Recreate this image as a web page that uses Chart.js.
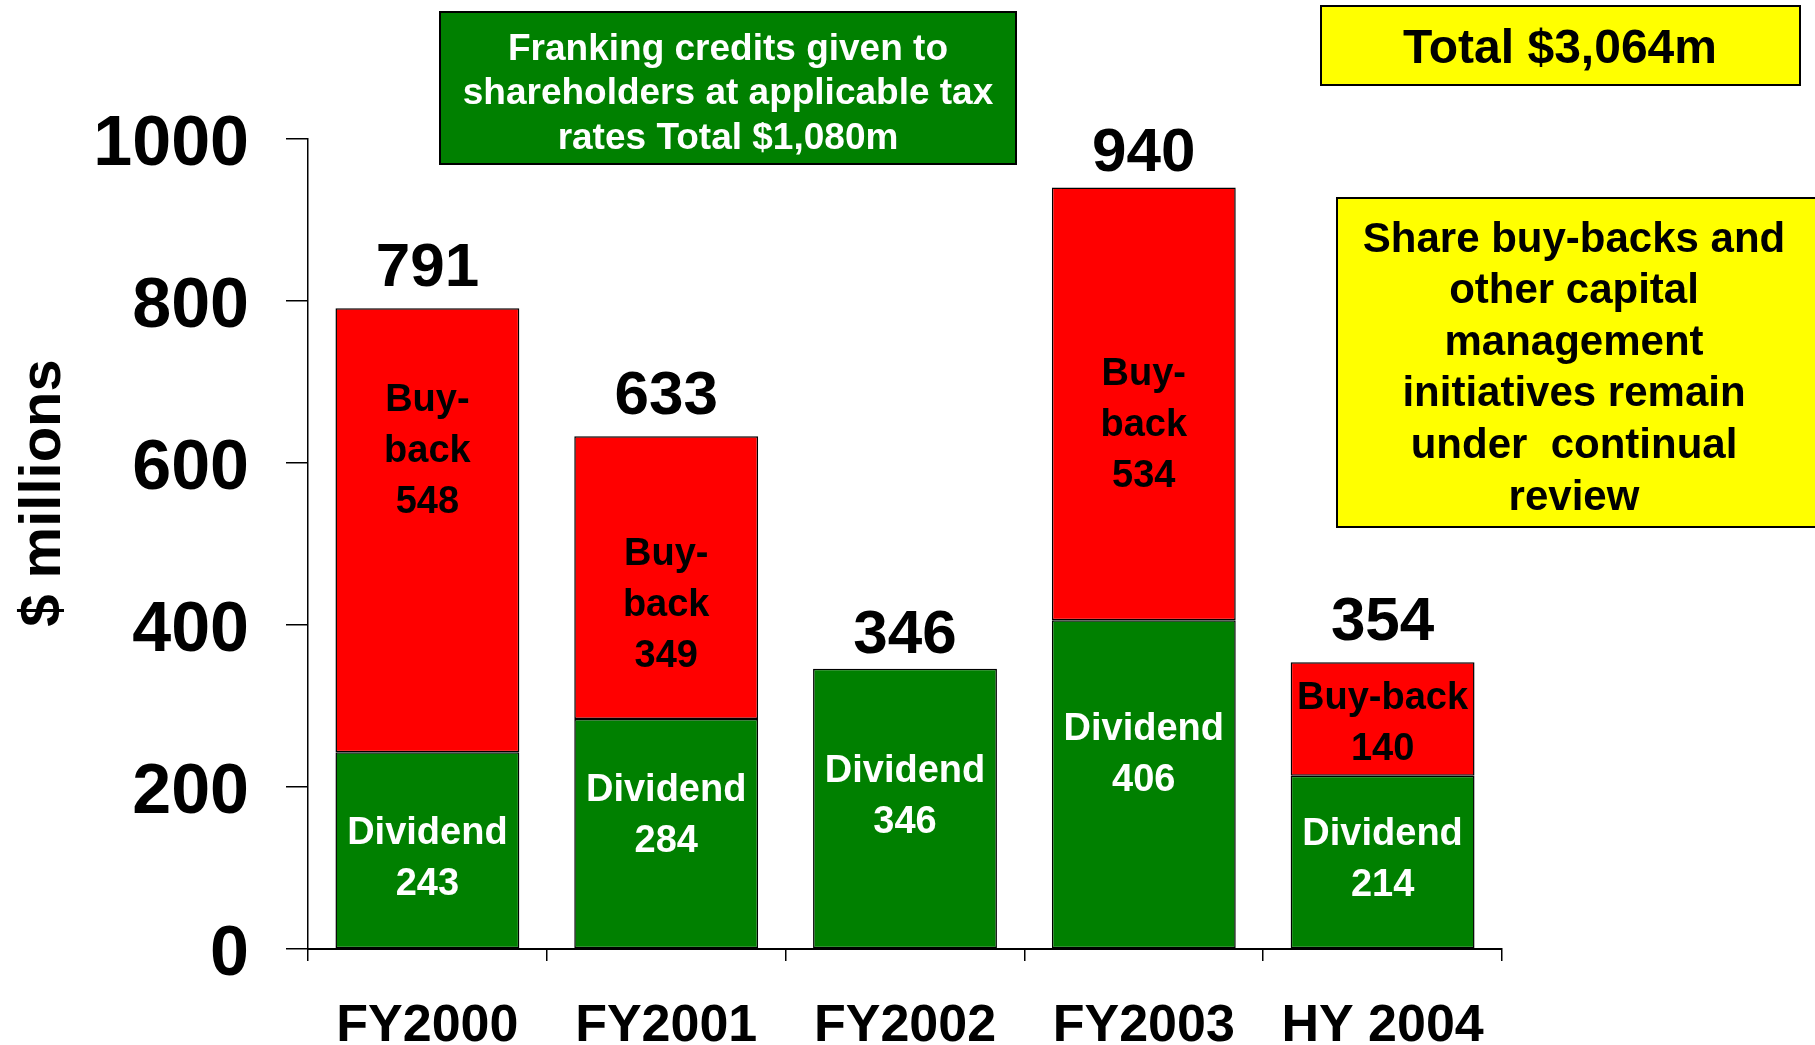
<!DOCTYPE html>
<html><head><meta charset="utf-8">
<script src="https://cdn.jsdelivr.net/npm/chart.js@4"></script>
<style>html,body{margin:0;padding:0;background:#fff;} #wrap{width:1815px;height:1045px;position:relative;}</style>
</head><body><div id="wrap"><canvas id="c"></canvas></div>
<script>
// ---- data ----
const categories = ['FY2000', 'FY2001', 'FY2002', 'FY2003', 'HY 2004'];
const dividend = [243, 284, 346, 406, 214];
const buyback = [548, 349, null, 534, 140];
const totals = [791, 633, 346, 940, 354];
const buybackCaption = [['Buy-', 'back'], ['Buy-', 'back'], null, ['Buy-', 'back'], ['Buy-back']];
const dividendCaption = 'Dividend';
const yMin = 0, yMax = 1000, yStep = 200;
const yTitle = '$ millions';
const frankingLines = ['Franking credits given to', 'shareholders at applicable tax', 'rates Total $1,080m'];
const totalText = 'Total $3,064m';
const noteLines = ['Share buy-backs and', 'other capital', 'management', 'initiatives remain', 'under  continual', 'review'];

// ---- style ----
const FONT = '"Liberation Sans", Arial, sans-serif';
const GREEN = '#008000', RED = '#FF0000', YELLOW = '#FFFF00';
const buybackNudge = [-79, 28, 0, 22, 5];
const dividendNudge = [9, -18, -11, -29, -2];
const totalNudge = [0, 0, 6, 5, 0];

function font(px) { return 'bold ' + px + 'px ' + FONT; }

function box(ctx, x, y, w, h, fill) {
  ctx.save();
  ctx.fillStyle = fill;
  ctx.fillRect(x, y, w, h);
  ctx.strokeStyle = '#000';
  ctx.lineWidth = 2;
  ctx.strokeRect(x, y, w, h);
  ctx.restore();
}
function lines(ctx, arr, cx, y0, step, px, color) {
  ctx.save();
  ctx.font = font(px);
  ctx.fillStyle = color;
  ctx.textAlign = 'center';
  ctx.textBaseline = 'middle';
  arr.forEach((t, i) => ctx.fillText(t, cx, y0 + i * step));
  ctx.restore();
}

const labelPlugin = {
  id: 'labels',
  afterDatasetsDraw(chart) {
    const ctx = chart.ctx;
    const ys = chart.scales.y;
    const divMeta = chart.getDatasetMeta(0);
    const bbMeta = chart.getDatasetMeta(1);
    categories.forEach((c, i) => {
      const d = divMeta.data[i];
      const dc = (d.y + d.base) / 2 + dividendNudge[i];
      lines(ctx, [dividendCaption, String(dividend[i])], d.x, dc - 25.5, 51, 38, '#fff');
      if (buyback[i] != null) {
        const b = bbMeta.data[i];
        const arr = buybackCaption[i].concat([String(buyback[i])]);
        const bc = (b.y + b.base) / 2 + buybackNudge[i];
        lines(ctx, arr, b.x, bc - (arr.length - 1) * 51 / 2, 51, 38, '#000');
      }
      const ty = ys.getPixelForValue(totals[i]);
      lines(ctx, [String(totals[i])], d.x, ty - 39 + totalNudge[i], 0, 62, '#000');
    });
  },
  afterDraw(chart) {
    const ctx = chart.ctx;
    ctx.save();
    ctx.font = font(58);
    ctx.fillStyle = '#000';
    ctx.translate(60, 493);
    ctx.rotate(-Math.PI / 2);
    ctx.textAlign = 'center';
    ctx.textBaseline = 'alphabetic';
    ctx.fillText(yTitle, 0, 0);
    ctx.restore();
    box(ctx, 440, 12, 576, 152, GREEN);
    lines(ctx, frankingLines, 728, 49.5, 44.5, 37, '#fff');
    box(ctx, 1321, 6, 479, 79, YELLOW);
    lines(ctx, [totalText], 1560, 50, 0, 48, '#000');
    box(ctx, 1337, 198, 490, 329, YELLOW);
    lines(ctx, noteLines, 1574, 240, 51.6, 42, '#000');
  }
};

new Chart(document.getElementById('c'), {
  type: 'bar',
  data: {
    labels: categories,
    datasets: [
      { label: 'Dividend', data: dividend, backgroundColor: GREEN, borderColor: '#000', borderWidth: 1.5, borderSkipped: false },
      { label: 'Buy-back', data: buyback, backgroundColor: RED, borderColor: '#000', borderWidth: 1.5, borderSkipped: false }
    ]
  },
  options: {
    responsive: true,
    maintainAspectRatio: false,
    animation: false,
    events: [],
    layout: { padding: { top: 139, right: 313, bottom: 0, left: 0 } },
    datasets: { bar: { categoryPercentage: 1, barPercentage: 0.77 } },
    plugins: { legend: { display: false }, tooltip: { enabled: false }, title: { display: false } },
    scales: {
      x: {
        stacked: true,
        afterFit(s) { s.height = 96; },
        grid: { drawOnChartArea: false, drawTicks: true, tickLength: 12, color: '#000', lineWidth: 1.5, offset: true },
        border: { display: true, color: '#000', width: 2 },
        ticks: { color: '#000', font: { family: FONT, size: 52, weight: 'bold' }, padding: 34, maxRotation: 0, autoSkip: false }
      },
      y: {
        stacked: true,
        min: yMin, max: yMax,
        afterFit(s) { s.width = 308; },
        grid: { drawOnChartArea: false, drawTicks: true, tickLength: 22, color: '#000', lineWidth: 1.5 },
        border: { display: true, color: '#000', width: 1.5 },
        ticks: { stepSize: yStep, color: '#000', font: { family: FONT, size: 70, weight: 'bold' }, padding: 37, labelOffset: 7,
                 callback: (v) => String(v) }
      }
    }
  },
  plugins: [labelPlugin]
});
</script>
</body></html>
